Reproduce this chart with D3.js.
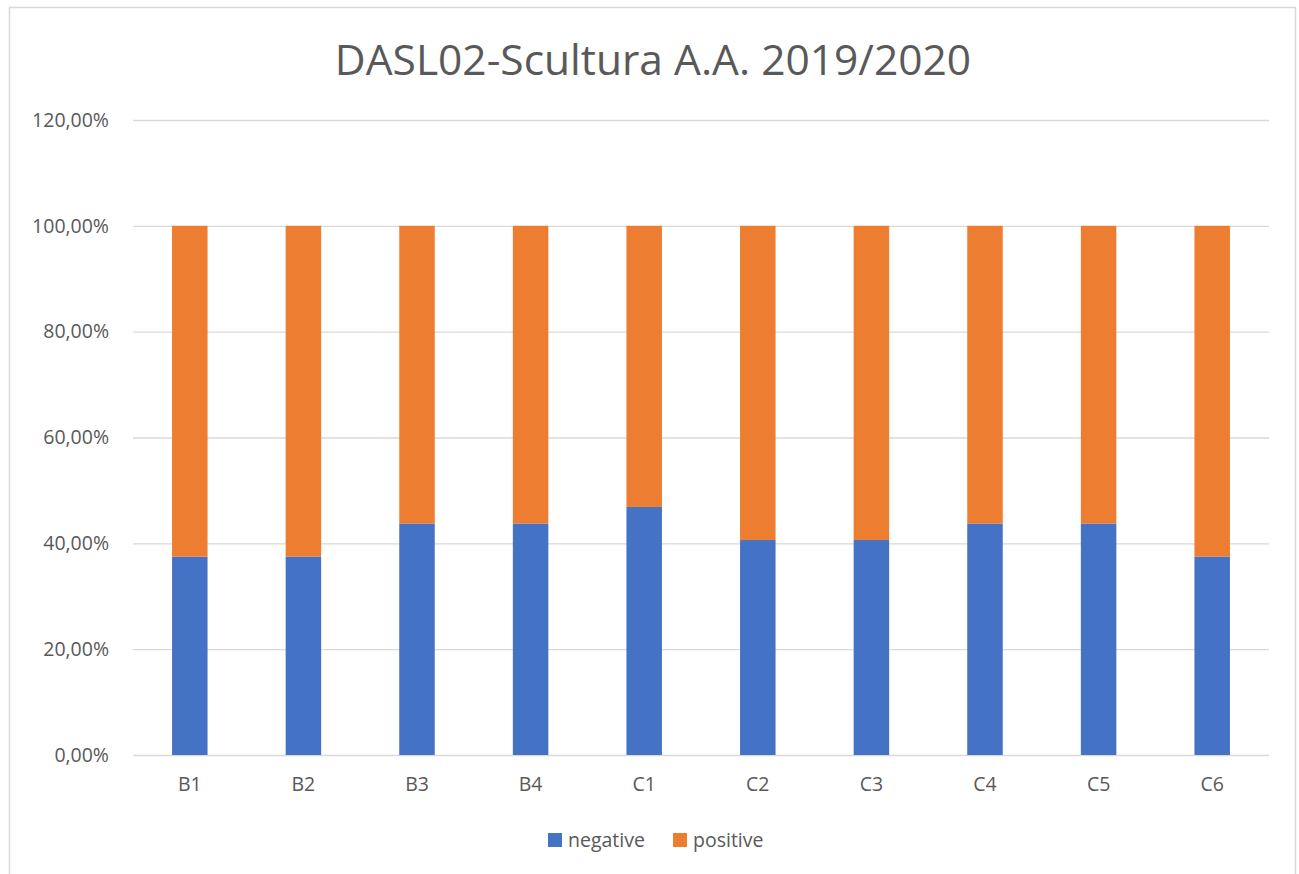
<!DOCTYPE html>
<html>
<head>
<meta charset="utf-8">
<script src="https://cdn.jsdelivr.net/npm/d3@7"></script>
<style>
	body { margin: 0; background: #fff; }
	text { font-family: "Open Sans", sans-serif; fill: #595959; }
</style>
</head>
<body>
<svg width="1299" height="874"></svg>
<script>
'use strict';
// chart data
let aCats = ["B1", "B2", "B3", "B4", "C1", "C2", "C3", "C4", "C5", "C6"]
let aNeg = [0.375, 0.375, 0.4375, 0.4375, 0.46875, 0.40625, 0.40625, 0.4375, 0.4375, 0.375]
let aPos = [0.625, 0.625, 0.5625, 0.5625, 0.53125, 0.59375, 0.59375, 0.5625, 0.5625, 0.625]
let aTicks = [0, 0.2, 0.4, 0.6, 0.8, 1.0, 1.2]
let aSeries = [{name: "negative", color: "#4472C4"}, {name: "positive", color: "#ED7D31"}]

let eSvg = d3.select("svg")
let dLeft = 133, dRight = 1269, dTop = 120, dBottom = 755

// chart border
eSvg.append("rect")
	.attr("x", 9.5).attr("y", 7.5)
	.attr("width", 1286).attr("height", 880)
	.attr("fill", "none").attr("stroke", "#d9d9d9").attr("stroke-width", 1.5)

let x = d3.scaleBand().domain(aCats).range([dLeft, dRight])
	.paddingInner(0.6875).paddingOuter(0.34375)
let y = d3.scaleLinear().domain([0, 1.2]).range([dBottom, dTop])

let fmt = v => (v * 100).toFixed(2).replace(".", ",") + "%"

// gridlines + y labels
let gY = eSvg.append("g").attr("transform", `translate(${dLeft},0)`)
	.call(d3.axisLeft(y).tickValues(aTicks).tickSize(-(dRight - dLeft)).tickPadding(24).tickFormat(fmt))
gY.select(".domain").remove()
gY.selectAll("line").attr("stroke", "#d9d9d9").attr("stroke-width", 1.3)
gY.selectAll("text").attr("font-size", 19.5).attr("fill", "#595959")

// stacked bars
let tRows = aCats.map((c, i) => ({cat: c, negative: aNeg[i], positive: aPos[i]}))
let aStack = d3.stack().keys(aSeries.map(s => s.name))(tRows)

eSvg.append("g").selectAll("g")
	.data(aStack).join("g")
	.attr("fill", (d, i) => aSeries[i].color)
	.selectAll("rect")
	.data(d => d).join("rect")
	.attr("x", d => x(d.data.cat))
	.attr("width", x.bandwidth())
	.attr("y", d => y(d[1]))
	.attr("height", d => y(d[0]) - y(d[1]))

// x labels
let gX = eSvg.append("g").attr("transform", `translate(0,${dBottom})`)
	.call(d3.axisBottom(x).tickSize(0).tickPadding(22))
gX.select(".domain").remove()
gX.selectAll("text").attr("font-size", 19.5).attr("fill", "#595959")

// title
eSvg.append("text")
	.attr("x", 653).attr("y", 75)
	.attr("text-anchor", "middle")
	.attr("font-size", 42.5)
	.text("DASL02-Scultura A.A. 2019/2020")

// legend
let aLegX = [548, 673]
let eLeg = eSvg.append("g").selectAll("g")
	.data(aSeries).join("g")
	.attr("transform", (d, i) => `translate(${aLegX[i]},833)`)
eLeg.append("rect").attr("width", 14).attr("height", 14).attr("fill", d => d.color)
eLeg.append("text").attr("x", 20).attr("y", 14).attr("font-size", 19.5).text(d => d.name)
</script>
</body>
</html>
